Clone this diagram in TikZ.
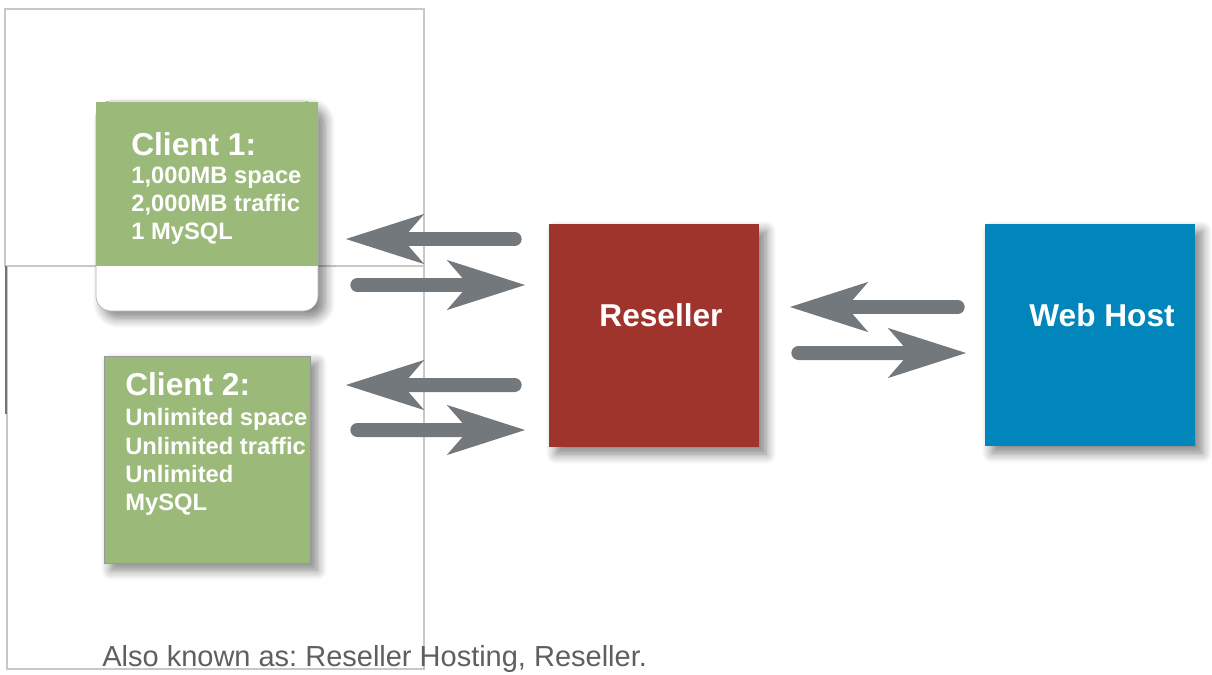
\documentclass[tikz,border=0pt]{standalone}
\usepackage{fontspec}
\setmainfont{Liberation Sans}
\usetikzlibrary{positioning, arrows.meta, calc, shadows.blur}
\frenchspacing

\definecolor{clientgreen}{RGB}{155,186,121}
\definecolor{resellerred}{RGB}{159,52,45}
\definecolor{hostblue}{RGB}{0,134,186}
\definecolor{arrowgrey}{RGB}{115,120,125}
\definecolor{framegrey}{RGB}{200,200,200}
\definecolor{captiongrey}{RGB}{95,95,95}

\tikzset{
  panel/.style={inner sep=0pt, blur shadow={shadow xshift=0.14cm, shadow yshift=-0.14cm, shadow blur radius=0.2cm, shadow blur steps=8, shadow opacity=50}},
  info/.style={text=white, font=\fontsize{13.5}{16}\selectfont\bfseries, align=left, anchor=north west, inner sep=0pt},
  title/.style={text=white, font=\fontsize{18}{20}\selectfont\bfseries, anchor=base, inner sep=0pt},
  flow/.style={draw=arrowgrey, line width=0.28cm, line cap=round, -{Stealth[length=1.54cm, width=0.96cm, inset=0.4cm]}},
}

\begin{document}
\begin{tikzpicture}[x=0.02cm, y=-0.02cm]

  % --- MOLDURA ---
  \useasboundingbox (0,0) rectangle (1212,674);
  \draw[framegrey, line width=0.6pt] (5,9) rectangle (424,266);
  \draw[framegrey, line width=0.6pt] (7,266) rectangle (424,669);
  \draw[black!55, line width=0.6pt] (6,266) -- (6,414);

  % --- CLIENTES ---
  % Cliente 1: caixa branca arredondada com topo verde
  \node[panel, fill=white, draw=black!30, rounded corners=0.3cm,
        minimum width=222*0.02cm, minimum height=210*0.02cm] (client1) at (207,206) {};
  \fill[clientgreen] ([yshift=-0.02cm]client1.north west) rectangle ([yshift=0.9cm]client1.south east);
  \node[info] (client1txt) at (131,132)
    {{\fontsize{18}{18}\selectfont Client 1:}\\1,000MB space\\2,000MB traffic\\1 MySQL};

  % Cliente 2
  \node[panel, fill=clientgreen, draw=black!40,
        minimum width=206*0.02cm, minimum height=207*0.02cm] (client2) at (207,459.5) {};
  \node[info] (client2txt) at (125,372)
    {{\fontsize{18}{18}\selectfont Client 2:}\\[0.05cm]Unlimited space\\Unlimited traffic\\Unlimited\\MySQL};

  % --- REVENDEDOR E HOSPEDAGEM ---
  \node[panel, fill=resellerred, minimum width=210*0.02cm, minimum height=223*0.02cm] (reseller) at (654,335.5) {};
  \node[title] (resellertxt) at (661,326) {Reseller};

  \node[panel, fill=hostblue, minimum width=210*0.02cm, minimum height=222*0.02cm] (webhost) at (1090,335) {};
  \node[title] (webhosttxt) at (1102,326) {Web Host};

  % --- SETAS ---
  % Cliente 1 <-> Revendedor
  \draw[flow] ([shift={(-34,-96.5)}]reseller.west) -- ([shift={(27,33)}]client1.east);
  \draw[flow] ([shift={(39,79)}]client1.east) -- ([shift={(-23,-50.5)}]reseller.west);
  % Cliente 2 <-> Revendedor
  \draw[flow] ([shift={(-34,49.5)}]reseller.west) -- ([shift={(35,-74.5)}]client2.east);
  \draw[flow] ([shift={(47,-29.5)}]client2.east) -- ([shift={(-23,94.5)}]reseller.west);
  % Revendedor <-> Web Host
  \draw[flow] ([shift={(-27,-28)}]webhost.west) -- ([shift={(30,-28.5)}]reseller.east);
  \draw[flow] ([shift={(39,17.5)}]reseller.east) -- ([shift={(-18,18)}]webhost.west);

  % --- LEGENDA ---
  \node[text=captiongrey, font=\fontsize{16.5}{18}\selectfont, anchor=base west, inner sep=0pt]
    (caption) at (102,666) {Also known as: Reseller Hosting, Reseller.};

\end{tikzpicture}
\end{document}
